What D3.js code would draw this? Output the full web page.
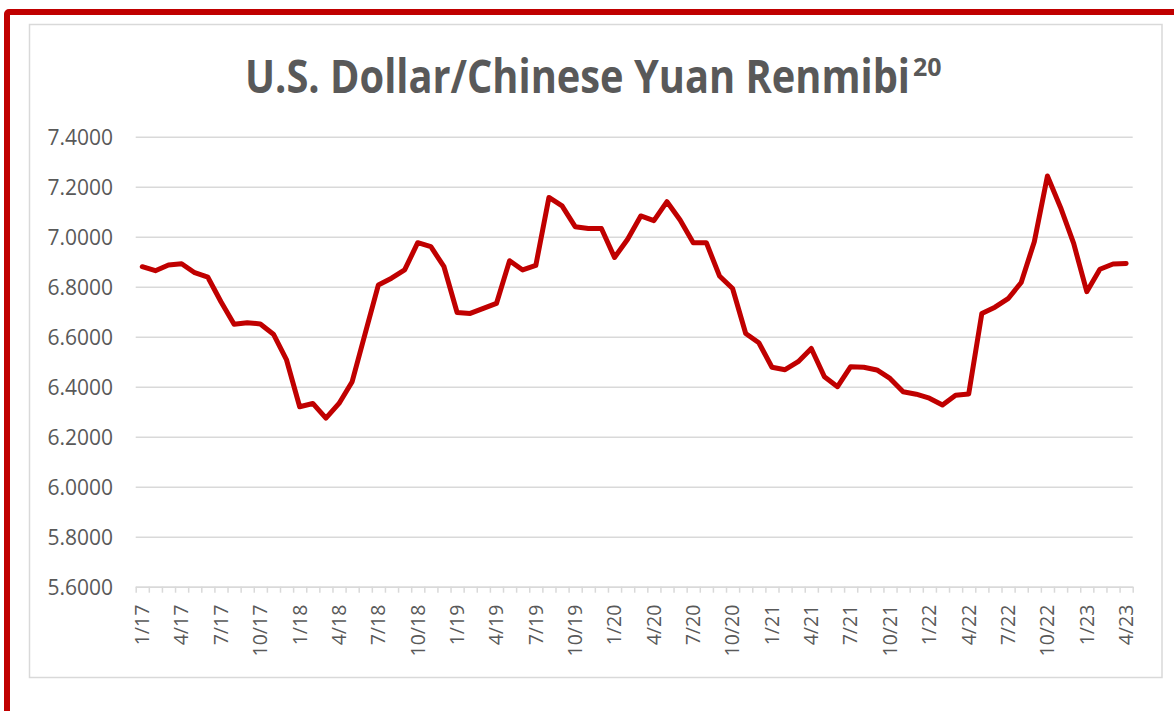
<!DOCTYPE html>
<html>
<head>
<meta charset="utf-8">
<script src="https://cdn.jsdelivr.net/npm/d3@7"></script>
<style>
  body { margin: 0; background: #fff; }
  svg { display: block; }
</style>
</head>
<body>
<svg id="chart" width="1174" height="711"></svg>
<script>
// monthly categories 1/17 .. 4/23
const months = [
  "1/17","2/17","3/17","4/17","5/17","6/17","7/17","8/17","9/17","10/17","11/17","12/17",
  "1/18","2/18","3/18","4/18","5/18","6/18","7/18","8/18","9/18","10/18","11/18","12/18",
  "1/19","2/19","3/19","4/19","5/19","6/19","7/19","8/19","9/19","10/19","11/19","12/19",
  "1/20","2/20","3/20","4/20","5/20","6/20","7/20","8/20","9/20","10/20","11/20","12/20",
  "1/21","2/21","3/21","4/21","5/21","6/21","7/21","8/21","9/21","10/21","11/21","12/21",
  "1/22","2/22","3/22","4/22","5/22","6/22","7/22","8/22","9/22","10/22","11/22","12/22",
  "1/23","2/23","3/23","4/23"
];

// USD/CNY rate
const rate = [
  6.880, 6.864, 6.887, 6.892, 6.856, 6.838, 6.740, 6.650, 6.656, 6.651, 6.610, 6.507,
  6.320, 6.333, 6.274, 6.333, 6.420, 6.614, 6.807, 6.834, 6.867, 6.976, 6.960, 6.880,
  6.697, 6.693, 6.713, 6.733, 6.904, 6.867, 6.885, 7.157, 7.123, 7.040, 7.033, 7.033,
  6.917, 6.990, 7.083, 7.064, 7.140, 7.067, 6.976, 6.976, 6.843, 6.793, 6.613, 6.576,
  6.478, 6.468, 6.500, 6.553, 6.440, 6.400, 6.480, 6.478, 6.467, 6.433, 6.380, 6.370,
  6.354, 6.327, 6.366, 6.371, 6.693, 6.718, 6.752, 6.817, 6.980, 7.243, 7.117, 6.973,
  6.780, 6.870, 6.891, 6.893
];

const yTicks = [5.6, 5.8, 6.0, 6.2, 6.4, 6.6, 6.8, 7.0, 7.2, 7.4];
const xLabels = ["1/17","4/17","7/17","10/17","1/18","4/18","7/18","10/18","1/19","4/19","7/19","10/19",
  "1/20","4/20","7/20","10/20","1/21","4/21","7/21","10/21","1/22","4/22","7/22","10/22","1/23","4/23"];

const svg = d3.select("#chart");
const grey = "#d9d9d9";
const textCol = "#595959";
const red = "#c00000";

// outer red frame (runs off the right and bottom edge)
svg.append("rect")
  .attr("x", 7).attr("y", 12)
  .attr("width", 1200).attr("height", 760)
  .attr("rx", 2)
  .attr("fill", "none")
  .attr("stroke", red)
  .attr("stroke-width", 6);

// chart area box
svg.append("rect")
  .attr("x", 29.5).attr("y", 24.5)
  .attr("width", 1132.5).attr("height", 653)
  .attr("fill", "#fff")
  .attr("stroke", grey)
  .attr("stroke-width", 1.5);

// title with superscript footnote number
const title = svg.append("text")
  .attr("x", 245).attr("y", 93)
  .attr("font-family", "'Open Sans', sans-serif")
  .attr("font-weight", "bold")
  .attr("fill", textCol);

title.append("tspan")
  .attr("font-size", 46)
  .attr("textLength", 665)
  .attr("lengthAdjust", "spacingAndGlyphs")
  .text("U.S. Dollar/Chinese Yuan Renmibi");

title.append("tspan")
  .attr("font-size", 25)
  .attr("dx", 3)
  .attr("dy", -17)
  .text("20");

// scales
const left = 135.7, right = 1132.7;
const x = d3.scaleLinear().domain([0, months.length]).range([left, right]);
const y = d3.scaleLinear().domain([5.6, 7.4]).range([586.7, 136.7]);

// y gridlines + labels
const yAxis = svg.append("g")
  .attr("transform", `translate(${left},0)`)
  .call(d3.axisLeft(y)
    .tickValues(yTicks)
    .tickSize(-(right - left))
    .tickPadding(22.7)
    .tickFormat(d3.format(".4f")));
yAxis.select(".domain").remove();
yAxis.selectAll(".tick line").attr("stroke", grey).attr("stroke-width", 1.5);
yAxis.selectAll(".tick text")
  .attr("font-family", "'Open Sans', sans-serif")
  .attr("font-size", 21)
  .attr("fill", textCol)
  .attr("dy", "0.35em");

// x axis: ticks between categories
const xAxis = svg.append("g")
  .attr("transform", `translate(0,${y(5.6)})`)
  .call(d3.axisBottom(x)
    .tickValues(d3.range(months.length + 1))
    .tickSize(6)
    .tickSizeOuter(0)
    .tickFormat(""));
xAxis.select(".domain").attr("stroke", grey).attr("stroke-width", 1.5);
xAxis.selectAll(".tick line").attr("stroke", grey).attr("stroke-width", 1.5);

// category labels every 3 months, rotated
svg.append("g").selectAll("text")
  .data(xLabels)
  .join("text")
  .attr("transform", d => `translate(${x(months.indexOf(d) + 0.5)},${y(5.6) + 18}) rotate(-90)`)
  .attr("text-anchor", "end")
  .attr("dy", "0.35em")
  .attr("font-family", "'Open Sans', sans-serif")
  .attr("font-size", 19.5)
  .attr("fill", textCol)
  .text(d => d);

// the line
const line = d3.line()
  .x((d, i) => x(i + 0.5))
  .y(d => y(d));

svg.append("path")
  .datum(rate)
  .attr("d", line)
  .attr("fill", "none")
  .attr("stroke", red)
  .attr("stroke-width", 5)
  .attr("stroke-linejoin", "round")
  .attr("stroke-linecap", "round");
</script>
</body>
</html>
